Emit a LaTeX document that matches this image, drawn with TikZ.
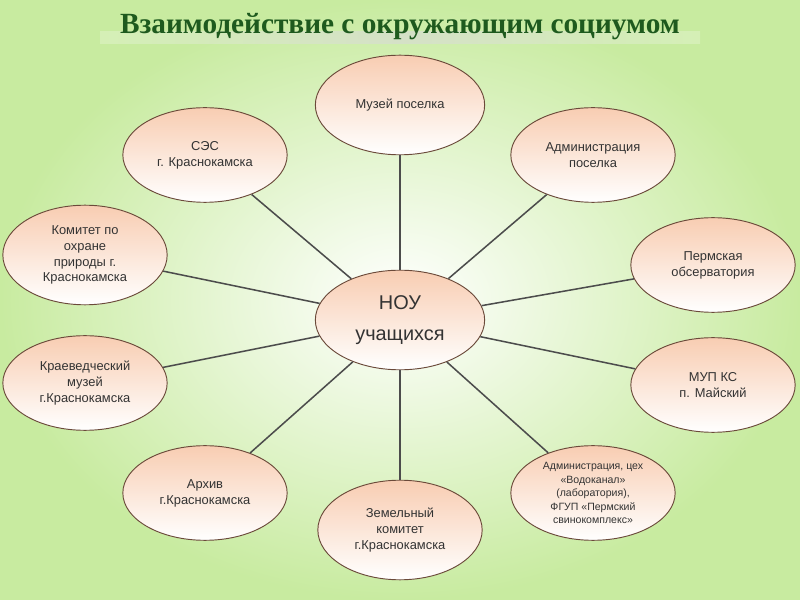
\documentclass[tikz,border=0pt]{standalone}
\usepackage{fontspec}
\setmainfont{Liberation Sans}
\newfontfamily\titlefont{Liberation Serif}
\usetikzlibrary{shapes.geometric}
\definecolor{peach}{HTML}{F8CDB2}
\definecolor{edge}{HTML}{6B4A3A}
\definecolor{bggreen}{HTML}{C8EBA0}
\definecolor{ttl}{HTML}{1E5A1E}
\begin{document}
\begin{tikzpicture}[x=0.03cm,y=-0.03cm,
  bub/.style={ellipse,draw=edge,line width=0.8pt,top color=peach,bottom color=white,middle color=peach!50,
    align=center,font=\fontsize{11}{13.5}\selectfont,text=black!80,inner sep=0pt},
  link/.style={draw=black!70,line width=1.3pt}]
\useasboundingbox (0,0) rectangle (800,600);
\shade[inner color=white,outer color=bggreen] (0,0) rectangle (800,600);
\shade[left color=bggreen!60,right color=bggreen!60,middle color=black!15,opacity=0.6] (100,32) rectangle (700,44);
\node[font=\titlefont\bfseries\fontsize{25}{28}\selectfont,text=ttl] (t) at (400,27) {Взаимодействие с окружающим социумом};
\node[bub,minimum width=170*0.85pt,minimum height=100*0.85pt,font=\fontsize{17}{27}\selectfont] (c) at (400,320) {НОУ\\учащихся};
\node[bub,minimum width=170*0.85pt,minimum height=100*0.85pt] (n1) at (400,105) {Музей поселка};
\node[bub,minimum width=165*0.85pt,minimum height=95*0.85pt] (n2) at (593,155) {Администрация\\поселка};
\node[bub,minimum width=165*0.85pt,minimum height=95*0.85pt] (n3) at (713,265) {Пермская\\обсерватория};
\node[bub,minimum width=165*0.85pt,minimum height=95*0.85pt] (n4) at (713,385) {МУП КС\\п. Майский};
\node[bub,minimum width=165*0.85pt,minimum height=95*0.85pt,font=\fontsize{9}{11.5}\selectfont] (n5) at (593,493) {Администрация, цех\\«Водоканал»\\(лаборатория),\\ФГУП «Пермский\\свинокомплекс»};
\node[bub,minimum width=165*0.85pt,minimum height=100*0.85pt] (n6) at (400,530) {Земельный\\комитет\\г.Краснокамска};
\node[bub,minimum width=165*0.85pt,minimum height=95*0.85pt] (n7) at (205,493) {Архив\\г.Краснокамска};
\node[bub,minimum width=165*0.85pt,minimum height=95*0.85pt] (n8) at (85,383) {Краеведческий\\музей\\г.Краснокамска};
\node[bub,minimum width=165*0.85pt,minimum height=100*0.85pt] (n9) at (85,255) {Комитет по\\охране\\природы г.\\Краснокамска};
\node[bub,minimum width=165*0.85pt,minimum height=95*0.85pt] (n10) at (205,155) {СЭС\\г. Краснокамска};
\foreach \n in {n1,n2,n3,n4,n5,n6,n7,n8,n9,n10} \draw[link] (c) -- (\n);
\end{tikzpicture}
\end{document}
